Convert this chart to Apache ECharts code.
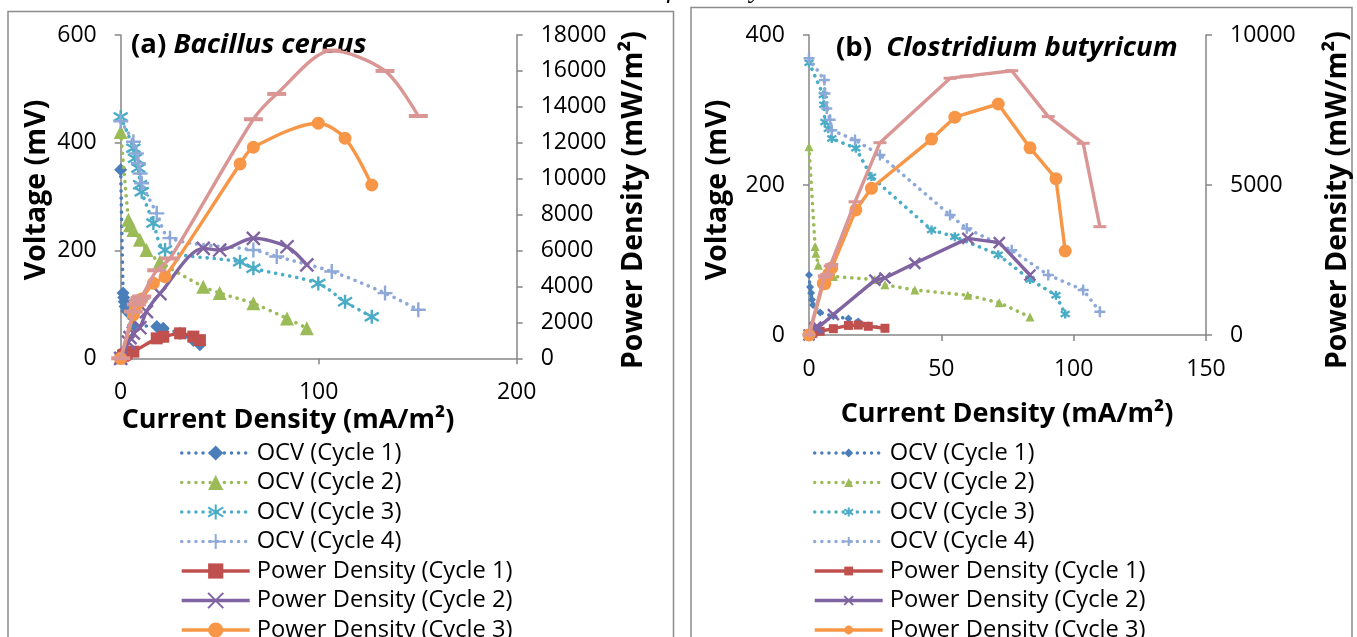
<!DOCTYPE html>
<html><head><meta charset="utf-8">
<script src="https://cdn.jsdelivr.net/npm/echarts@6/dist/echarts.min.js"></script>
<style>html,body{margin:0;padding:0;background:#fff;overflow:hidden}#c{width:1357px;height:637px}</style>
</head><body><div id="c"></div>
<script>
// ---------- DATA ----------
const seriesNames = ['OCV (Cycle 1)','OCV (Cycle 2)','OCV (Cycle 3)','OCV (Cycle 4)',
  'Power Density (Cycle 1)','Power Density (Cycle 2)','Power Density (Cycle 3)','Power Density (Cycle 4)'];

// (a) Bacillus cereus  -- current density (mA/m2), voltage (mV), power density (mW/m2)
const aX1 = [0, 1.2, 1.5, 1.8, 2.2, 3, 6.4, 18.2, 21.5, 30, 36.7, 40];
const aOcv1 = [350, 121, 113, 105, 96, 88, 62, 59, 56, 46, 33, 25];
const aPow1 = [0, 145, 170, 190, 210, 260, 370, 1110, 1200, 1390, 1210, 1010];

const aX2 = [0, 3.9, 4.7, 6.4, 9.7, 13, 19.8, 41.7, 50, 67, 84, 94];
const aOcv2 = [420, 257, 247, 238, 220, 201, 179, 133, 121, 102, 74, 56];
const aPow2 = [0, 900, 1150, 1400, 1700, 2600, 3600, 6120, 6030, 6680, 6210, 5200];

const aX3 = [0, 6.4, 7.2, 8.9, 9.8, 10.6, 16.5, 22.4, 60.3, 67, 99.8, 113.3, 126.8];
const aOcv3 = [448, 390, 371, 353, 322, 309, 251, 201, 179, 167, 139, 105, 77];
const aPow3 = [0, 2410, 2700, 3100, 3200, 3300, 4180, 4540, 10820, 11750, 13090, 12250, 9650];

const aX4 = [0, 6.4, 7.9, 8.9, 9.8, 10.6, 18.2, 24.9, 67, 78.8, 106.6, 133.5, 150.3];
const aOcv4 = [440, 402, 380, 362, 343, 325, 269, 223, 201, 189, 161, 121, 90];
const aPow4 = [0, 2600, 3000, 3220, 3360, 3440, 4900, 5560, 13310, 14720, 17130, 16000, 13490];

// (b) Clostridium butyricum
const bX1 = [0, 0.4, 0.8, 1.1, 1.5, 4.2, 9.2, 14.9, 18.6, 22.4, 28.7];
const bOcv1 = [80, 64, 56, 47, 40, 30, 25, 22, 18, 13, 8];
const bPow1 = [0, 25, 45, 52, 60, 125, 210, 320, 330, 290, 225];

const bX2 = [0, 2.3, 2.6, 3.5, 9.2, 24.9, 28.7, 40, 60, 71.9, 83.5];
const bOcv2 = [251, 118, 109, 93, 78, 74, 67, 60, 53, 43, 24];
const bPow2 = [0, 230, 260, 250, 680, 1830, 1900, 2390, 3220, 3080, 2000];

const bX3 = [0, 5.4, 5.6, 6.0, 7.3, 8.6, 17.7, 23.6, 46.3, 55.1, 71.5, 83.5, 93.3, 96.8];
const bOcv3 = [363, 320, 307, 284, 275, 262, 249, 211, 140, 131, 107, 74, 53, 28];
const bPow3 = [0, 1720, 1720, 1710, 2010, 2240, 4170, 4890, 6530, 7260, 7700, 6240, 5210, 2800];

const bX4 = [0, 5.8, 6.0, 6.7, 8.0, 8.6, 17.4, 26.8, 53.3, 59.6, 76.6, 90.4, 103.6, 109.9];
const bOcv4 = [369, 340, 322, 302, 287, 273, 260, 240, 160, 142, 113, 80, 60, 31];
const bPow4 = [0, 1970, 1930, 2020, 2300, 2350, 4440, 6410, 8560, 8630, 8810, 7280, 6390, 3610];

// axis ticks
const aXTicks = {min: 0, max: 200, interval: 100};
const aYLeft = {min: 0, max: 600, interval: 200};
const aYRight = {min: 0, max: 18000, interval: 2000};
const bXTicks = {min: 0, max: 150, interval: 50};
const bYLeft = {min: 0, max: 400, interval: 200};
const bYRight = {min: 0, max: 10000, interval: 5000};

// ---------- STYLE ----------
const FONT = "'Open Sans', sans-serif";
const AXC = '#868686';
const COLORS = ['#4A7EBB', '#9BBB59', '#4BACC6', '#8EA9D8', '#C0504D', '#8064A2', '#F79646', '#D99694'];
const SYM = [
  'diamond', 'triangle',
  'path://M0,-10L0,10M-9,-6L9,6M-9,6L9,-6',
  'path://M0,-10L0,10M-10,0L10,0',
  'rect',
  'path://M-10,-10L10,10M-10,10L10,-10',
  'circle', 'rect'
];
const aSizes = [13, 14, 14, 15, 12, 13, 13, [19, 4]];
const bSizes = [8, 9, 9, 11, 9, 11, 13, [13, 3]];

function pairs(xs, ys) { return xs.map((x, i) => [x, ys[i]]); }

function makeSeries(k, name, xs, ys, xi, yi, sizes, smooth) {
  const dotted = k < 4;
  const isPath = typeof SYM[k] === 'string' && SYM[k].indexOf('path://') === 0;
  return {
    type: 'line', name: name, xAxisIndex: xi, yAxisIndex: yi,
    data: pairs(xs, ys), smooth: smooth,
    symbol: SYM[k], symbolSize: sizes[k], showAllSymbol: true,
    lineStyle: dotted ? {color: COLORS[k], width: 3.6, type: [0.1, 7], cap: 'round'}
                      : {color: COLORS[k], width: 3.4},
    itemStyle: {color: COLORS[k], borderColor: COLORS[k], borderWidth: isPath ? 2.4 : 0},
    emphasis: {disabled: true}, animation: false, z: 2 + k
  };
}

const aSets = [[aX1, aOcv1], [aX2, aOcv2], [aX3, aOcv3], [aX4, aOcv4],
               [aX1, aPow1], [aX2, aPow2], [aX3, aPow3], [aX4, aPow4]];
const bSets = [[bX1, bOcv1], [bX2, bOcv2], [bX3, bOcv3], [bX4, bOcv4],
               [bX1, bPow1], [bX2, bPow2], [bX3, bPow3], [bX4, bPow4]];

const series = [];
aSets.forEach((s, k) => series.push(makeSeries(k, seriesNames[k], s[0], s[1], 0, k < 4 ? 0 : 1, aSizes, 0.3)));
bSets.forEach((s, k) => series.push(makeSeries(k, seriesNames[k] + ' ', s[0], s[1], 1, k < 4 ? 2 : 3, bSizes, false)));

function axisBase(extra, margin) {
  return Object.assign({
    type: 'value',
    axisLine: {show: true, onZero: false, lineStyle: {color: AXC, width: 1.5}},
    axisTick: {show: true, length: 6, lineStyle: {color: AXC, width: 1.5}},
    splitLine: {show: false},
    axisLabel: {color: '#000', fontSize: 23, fontFamily: FONT, margin: margin || 24,
                formatter: v => String(v)}
  }, extra);
}

const titleStyle = {fill: '#000', fontSize: 28.5, fontWeight: 'bold', fontFamily: FONT};
function txt(text, x, y, rot, st) {
  return {type: 'text', x: x, y: y, rotation: rot || 0, silent: true,
    style: Object.assign({text: text, textAlign: 'center', textVerticalAlign: 'middle'}, titleStyle, st || {})};
}
const legendText = {fontSize: 23.7, fontFamily: FONT, color: '#000', padding: [0, 0, 0, 2]};

const option = {
  backgroundColor: '#fff',
  animation: false,
  grid: [
    {left: 120.7, top: 35, width: 396, height: 323.3},
    {left: 809, top: 35, width: 397, height: 300}
  ],
  xAxis: [
    axisBase(Object.assign({gridIndex: 0}, aXTicks), 23),
    axisBase(Object.assign({gridIndex: 1}, bXTicks), 23)
  ],
  yAxis: [
    axisBase(Object.assign({gridIndex: 0, position: 'left'}, aYLeft)),
    axisBase(Object.assign({gridIndex: 0, position: 'right'}, aYRight)),
    axisBase(Object.assign({gridIndex: 1, position: 'left'}, bYLeft)),
    axisBase(Object.assign({gridIndex: 1, position: 'right'}, bYRight))
  ],
  legend: [
    {data: seriesNames, orient: 'vertical', left: 180, top: 441, height: 400, padding: 0,
     itemWidth: 68, itemHeight: 19, itemGap: 5.5, selectedMode: false, textStyle: legendText,
     lineStyle: {width: 3.4}},
    {data: seriesNames.map(n => n + ' '), orient: 'vertical', left: 813, top: 441, height: 400, padding: 0,
     itemWidth: 68, itemHeight: 11, itemGap: 5.5, selectedMode: false, textStyle: legendText,
     lineStyle: {width: 3.4}}
  ],
  graphic: [
    {type: 'rect', silent: true, shape: {x: 8, y: 11.5, width: 665.5, height: 700},
     style: {fill: 'none', stroke: '#8c8c8c', lineWidth: 1.5}},
    {type: 'rect', silent: true, shape: {x: 691, y: 7.5, width: 661, height: 700},
     style: {fill: 'none', stroke: '#8c8c8c', lineWidth: 1.5}},
    {type: 'text', x: 687, y: -10, silent: true,
     style: {text: 'an end of each cycle.', textAlign: 'center', textVerticalAlign: 'middle',
             fill: '#000', fontSize: 27, fontStyle: 'italic', fontFamily: "'Liberation Serif', serif"}},
    {type: 'text', x: 131, y: 45, silent: true,
     style: {text: '{n|(a) }{i|Bacillus cereus}', textAlign: 'left', textVerticalAlign: 'middle',
       rich: {n: {fontSize: 27.5, fontWeight: 'bold', fontFamily: FONT, fill: '#000'},
              i: {fontSize: 27.5, fontWeight: 'bold', fontStyle: 'italic', fontFamily: FONT, fill: '#000'}}}},
    {type: 'text', x: 836, y: 48, silent: true,
     style: {text: '{n|(b)  }{i|Clostridium butyricum}', textAlign: 'left', textVerticalAlign: 'middle',
       rich: {n: {fontSize: 27.5, fontWeight: 'bold', fontFamily: FONT, fill: '#000'},
              i: {fontSize: 27.5, fontWeight: 'bold', fontStyle: 'italic', fontFamily: FONT, fill: '#000'}}}},
    txt('Current Density (mA/m²)', 288, 420, 0, {fontSize: 27}),
    txt('Current Density (mA/m²)', 1007, 414, 0, {fontSize: 27}),
    txt('Voltage (mV)', 37, 190, Math.PI / 2),
    txt('Voltage (mV)', 718, 190, Math.PI / 2),
    txt('Power Density (mW/m²)', 634, 200, Math.PI / 2),
    txt('Power Density (mW/m²)', 1338, 200, Math.PI / 2)
  ],
  series: series
};

const chart = echarts.init(document.getElementById('c'), null, {renderer: 'canvas'});
chart.setOption(option);
</script></body></html>
